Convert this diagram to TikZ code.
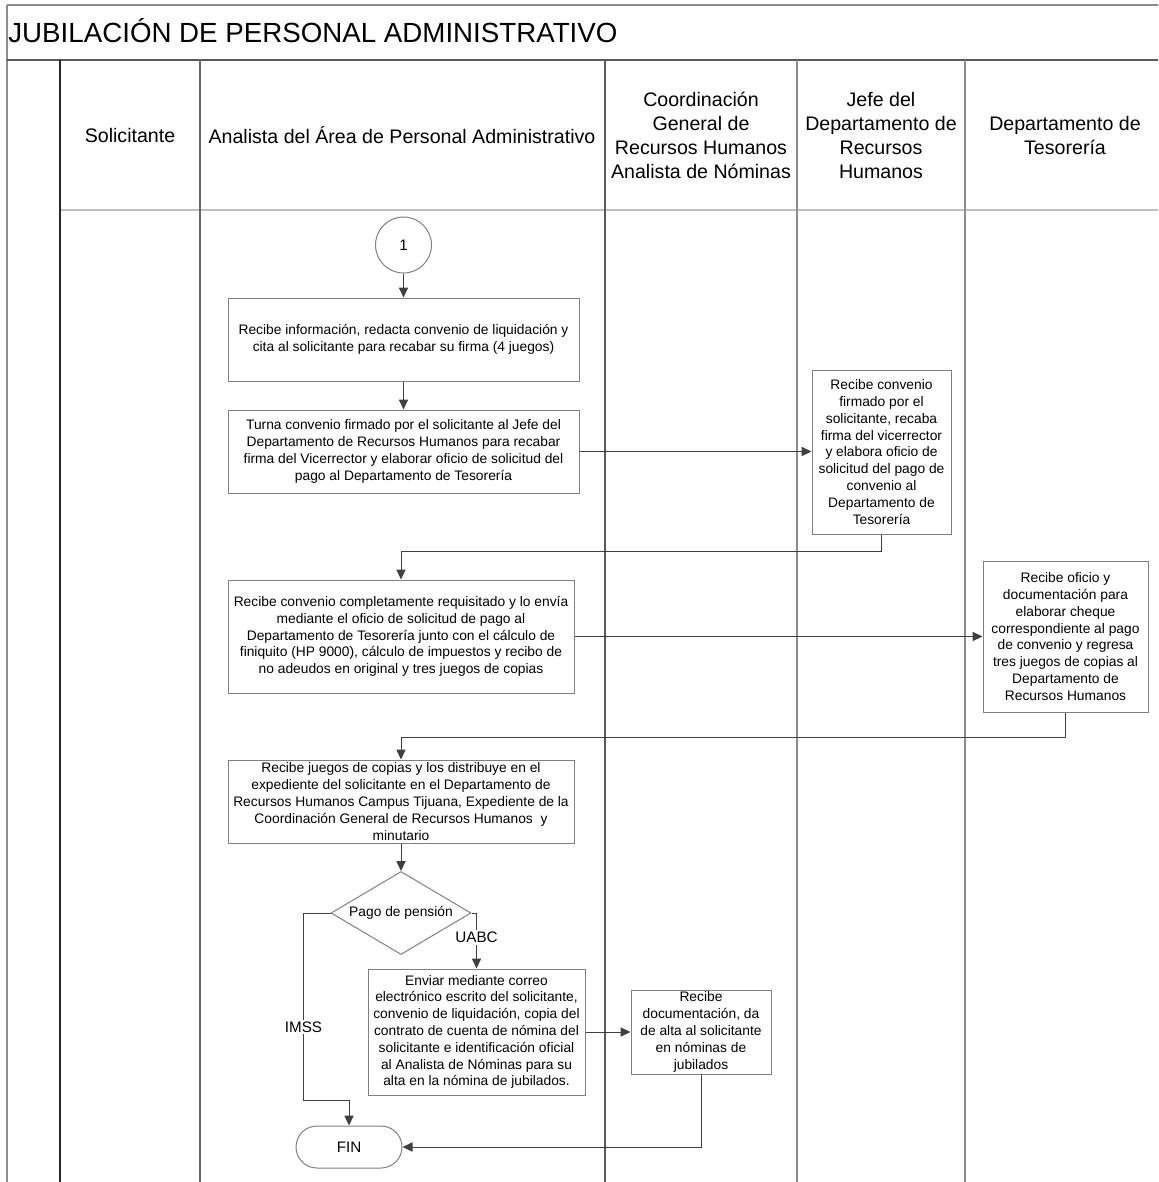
\documentclass[tikz,border=0pt]{standalone}
\usepackage{fontspec}
\setmainfont{Liberation Sans}
\usetikzlibrary{arrows.meta,shapes.geometric,positioning}

\begin{document}
\begin{tikzpicture}[x=0.5pt,y=-0.5pt,
      >={Triangle[length=5pt,width=4.6pt]},
      Lane/.style={line width=0.8pt},
      Head/.style={align=center, font=\fontsize{9.8}{12}\selectfont},
      Box/.style={draw=black!50, line width=0.5pt, align=center, inner sep=0pt,
        font=\fontsize{6.9}{8.4}\selectfont},
      Flow/.style={->, draw=black!75, line width=0.5pt},
      Tag/.style={fill=white, inner sep=1pt, font=\fontsize{7.6}{9}\selectfont},
      ]
      \useasboundingbox (0,0) rectangle (1158,1182);

      \draw[Lane, black!45] (7,5) -- (1158,5);
      \draw[Lane, black!45] (7,5) -- (7,1182);
      \draw[Lane, black!65] (7,60) -- (1158,60);
      \draw[Lane, black!25] (60,210) -- (1158,210);
      \foreach \x/\c in {60/85,200/60,605/65,797/45,965/45}
        \draw[Lane, black!\c] (\x,60) -- (\x,1182);

      \node[anchor=base west, inner sep=0pt, font=\fontsize{13.85}{16}\selectfont] (title) at (8,43) {JUBILACIÓN DE PERSONAL ADMINISTRATIVO};

      \node[Head] (hSol) at (130,135) {Solicitante};
      \node[Head] (hAna) at (402,135) {Analista del Área de Personal Administrativo};
      \node[Head] (hCoo) at (701,135) {Coordinación\\General de\\Recursos Humanos\\Analista de Nóminas};
      \node[Head] (hJef) at (881,135) {Jefe del\\Departamento de\\Recursos\\Humanos};
      \node[Head] (hTes) at (1065,135) {Departamento de\\Tesorería};

      \node[circle, draw=black!50, line width=0.5pt, minimum size=28pt, inner sep=0pt,
        font=\fontsize{7.6}{9}\selectfont] (c1) at (403.5,245) {1};

      \node[Box, minimum width=175.5pt, minimum height=41.5pt] (b1) at (403.5,339.5)
        {Recibe información, redacta convenio de liquidación y\\cita al solicitante para recabar su firma (4 juegos)};
      \node[Box, minimum width=175.5pt, minimum height=41.5pt] (b2) at (403.5,451.5)
        {Turna convenio firmado por el solicitante al Jefe del\\Departamento de Recursos Humanos para recabar\\firma del Vicerrector y elaborar oficio de solicitud del\\pago al Departamento de Tesorería};
      \node[Box, minimum width=69.5pt, minimum height=82pt] (b3) at (881.5,452)
        {Recibe convenio\\firmado por el\\solicitante, recaba\\firma del vicerrector\\y elabora oficio de\\solicitud del pago de\\convenio al\\Departamento de\\Tesorería};
      \node[Box, minimum width=173pt, minimum height=56.5pt] (b4) at (401,636.5)
        {Recibe convenio completamente requisitado y lo envía\\mediante el oficio de solicitud de pago al\\Departamento de Tesorería junto con el cálculo de\\finiquito (HP 9000), cálculo de impuestos y recibo de\\no adeudos en original y tres juegos de copias};
      \node[Box, minimum width=82.5pt, minimum height=75.5pt] (b5) at (1065.5,636.5)
        {Recibe oficio y\\documentación para\\elaborar cheque\\correspondiente al pago\\de convenio y regresa\\tres juegos de copias al\\Departamento de\\Recursos Humanos};
      \node[Box, minimum width=173pt, minimum height=41.5pt] (b6) at (401,801.5)
        {Recibe juegos de copias y los distribuye en el\\expediente del solicitante en el Departamento de\\Recursos Humanos Campus Tijuana, Expediente de la\\Coordinación General de Recursos Humanos\ \ y\\minutario};
      \node[Box, diamond, aspect=1.69, minimum width=70pt, minimum height=41.5pt] (d1) at (401,913) {Pago de pensión};
      \node[Box, minimum width=108.5pt, minimum height=63pt] (b7) at (476.5,1032)
        {Enviar mediante correo\\electrónico escrito del solicitante,\\convenio de liquidación, copia del\\contrato de cuenta de nómina del\\solicitante e identificación oficial\\al Analista de Nóminas para su\\alta en la nómina de jubilados.};
      \node[Box, minimum width=70pt, minimum height=42pt] (b8) at (701,1032)
        {Recibe\\documentación, da\\de alta al solicitante\\en nóminas de\\jubilados};
      \node[Box, rounded corners=10.5pt, minimum width=53pt, minimum height=21pt,
        font=\fontsize{7.6}{9}\selectfont] (fin) at (349,1147) {FIN};

      \draw[Flow] (c1) -- (b1);
      \draw[Flow] (b1) -- (b2);
      \draw[Flow] (b2.east) -- (b3.west |- b2.east);
      \draw[Flow] (b3.south) -- ++(0,17) -| (b4.north);
      \draw[Flow] (b4.east) -- (b5.west);
      \draw[Flow] (b5.south) -- ++(0,25) -| (b6.north);
      \draw[Flow] (b6) -- (d1);
      \draw[Flow] (d1.west) -- ++(-27,0) -- ++(0,187) node[Tag, pos=0.61] {IMSS} -| (fin.north);
      \draw[Flow] (d1.east) -| node[Tag, pos=0.72] {UABC} (b7.north);
      \draw[Flow] (b7.east) -- (b8.west);
      \draw[Flow] (b8.south) |- (fin.east);
    \end{tikzpicture}
\end{document}
